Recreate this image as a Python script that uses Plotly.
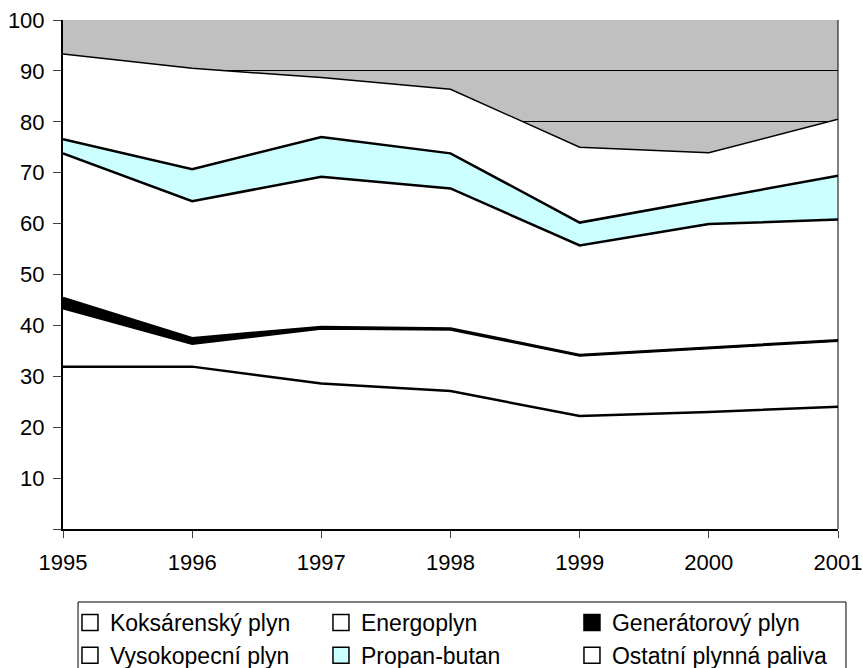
import plotly.graph_objects as go

# Podíl plynných paliv (stacked area)
years = [1995, 1996, 1997, 1998, 1999, 2000, 2001]

koksarensky = [31.9, 31.9, 28.6, 27.1, 22.2, 23.0, 24.0]
energoplyn = [11.5, 4.5, 10.8, 12.1, 11.9, 12.6, 13.0]
generatorovy = [2.0, 1.1, 0.3, 0.2, 0.1, 0.1, 0.1]
vysokopecni = [28.4, 26.9, 29.5, 27.5, 21.5, 24.2, 23.7]
propan_butan = [2.8, 6.3, 7.8, 6.9, 4.5, 4.9, 8.6]
ostatni = [16.7, 19.8, 11.7, 12.6, 14.8, 9.1, 11.1]

series_names = ['Koksárenský plyn', 'Energoplyn', 'Generátorový plyn',
                'Vysokopecní plyn', 'Propan-butan', 'Ostatní plynná paliva']
series_values = [koksarensky, energoplyn, generatorovy,
                 vysokopecni, propan_butan, ostatni]

y_tickvals = [0, 10, 20, 30, 40, 50, 60, 70, 80, 90, 100]
y_ticktext = ['', '10', '20', '30', '40', '50', '60', '70', '80', '90', '100']

# colours
WHITE = '#FFFFFF'
BLACK = '#000000'
CYAN = '#CCFFFF'
PLOT_GRAY = '#C0C0C0'
series_fills = [WHITE, WHITE, BLACK, WHITE, CYAN, WHITE]
# the outermost outline is thinner than the inner ones
series_lw = [2.5, 2.5, 2.5, 2.5, 2.5, 1.5]

FONT = 'Liberation Sans, Arial, sans-serif'

fig = go.Figure()

# the stacked areas themselves
for name, vals, fill, lw in zip(series_names, series_values, series_fills, series_lw):
    fig.add_trace(go.Scatter(
        x=years, y=vals,
        stackgroup='one',
        mode='lines',
        line=dict(color=BLACK, width=lw),
        fillcolor=fill,
        name=name,
        showlegend=False,
    ))

# legend entries: square swatches like the original
for name, fill in zip(series_names, series_fills):
    fig.add_trace(go.Scatter(
        x=[None], y=[None],
        mode='markers',
        marker=dict(symbol='square', size=16, color=fill,
                    line=dict(color=BLACK, width=1.5)),
        name=name,
        showlegend=True,
    ))

fig.update_layout(
    width=863, height=668,
    margin=dict(l=63, r=25, t=20, b=139, autoexpand=False),
    paper_bgcolor='white',
    plot_bgcolor=PLOT_GRAY,
    font=dict(family=FONT, size=22, color=BLACK),
    showlegend=True,
    legend=dict(
        orientation='h',
        x=0.0219, xanchor='left',
        y=-0.1414, yanchor='top',
        entrywidth=216,
        indentation=-10,
        traceorder='normal',
        borderwidth=0,
        bgcolor='rgba(0,0,0,0)',
        font=dict(family=FONT, size=23, color=BLACK),
    ),
    shapes=[
        # right-hand frame of the plot area
        dict(type='line', xref='paper', yref='paper', x0=1, x1=1, y0=0, y1=1,
             line=dict(color=BLACK, width=1), layer='above'),
        # legend frame
        dict(type='rect', xref='paper', yref='paper',
             x0=0.0194, x1=1.0103, y0=-0.1434, y1=-0.30,
             line=dict(color=BLACK, width=1), fillcolor='rgba(0,0,0,0)',
             layer='above'),
    ],
)

fig.update_xaxes(
    range=[years[0], years[-1]],
    tickmode='array', tickvals=years, ticktext=[str(y) for y in years],
    showgrid=False, zeroline=False, automargin=False,
    showline=True, linecolor=BLACK, linewidth=2,
    ticks='outside', ticklen=7, tickcolor='#404040', tickwidth=1,
    ticklabelstandoff=6, ticklabeloverflow='allow',
)

fig.update_yaxes(
    range=[0, 100],
    tickmode='array', tickvals=y_tickvals, ticktext=y_ticktext,
    showgrid=True, gridcolor=BLACK, gridwidth=1,
    zeroline=False, automargin=False,
    showline=True, linecolor=BLACK, linewidth=2,
    ticks='outside', ticklen=8, tickcolor='#404040', tickwidth=1,
    ticklabelstandoff=4, ticklabeloverflow='allow',
)

# drop the default body margin so the 863x668 figure fills the window exactly
fig.write_html(
    "out.html",
    config={'displayModeBar': False},
    post_script="document.body.style.margin='0';document.body.style.overflow='hidden';",
)
